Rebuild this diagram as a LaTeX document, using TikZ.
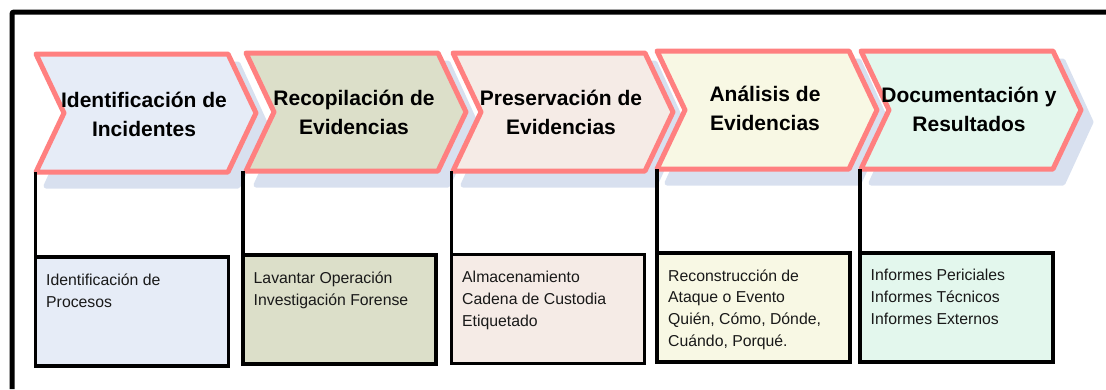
\documentclass[tikz,border=0pt]{standalone}
\usepackage{fontspec}
\setmainfont{Liberation Sans}
\usepackage{tikz}

\definecolor{stageline}{RGB}{255,128,128}
\definecolor{stageshadow}{RGB}{216,224,239}
\definecolor{idfill}{RGB}{230,236,247}
\definecolor{recfill}{RGB}{220,223,201}
\definecolor{presfill}{RGB}{245,235,230}
\definecolor{anafill}{RGB}{248,248,228}
\definecolor{docfill}{RGB}{227,247,237}

\begin{document}
\begin{tikzpicture}[x=1pt, y=-1pt,
    stage/.style ={draw=stageline, line width=5pt, line join=round},
    stageshade/.style ={fill=stageshadow, draw=stageshadow, line width=5pt, line join=round},
    stagetitle/.style ={font=\bfseries\fontsize{21}{29}\selectfont, align=center},
    detailbox/.style ={draw, line width=3.2pt, minimum width=193pt, minimum height=109pt,
                       anchor=north west, outer sep=0pt, inner sep=0pt},
    detailtext/.style ={font=\fontsize{15.8}{21.7}\selectfont, align=left,
                        anchor=north west, inner sep=0pt, text=black!90},
    link/.style ={line width=3.2pt}]
   \useasboundingbox (0,0) rectangle (1106,389);

   % frame
   \draw[line width=5pt, rounded corners=2pt] (12,389) -- (12,12) -- (1106,12);

   % shadows
   \draw[stageshade] (46,64) -- (238,64) -- (266,125) -- (238,186) -- (46,186) -- (74,125) -- cycle;
   \draw[stageshade] (256,63) -- (448,63) -- (476,124) -- (448,185) -- (256,185) -- (284,124) -- cycle;
   \draw[stageshade] (463,63) -- (655,63) -- (683,124) -- (655,185) -- (463,185) -- (491,124) -- cycle;
   \draw[stageshade] (667,61) -- (859,61) -- (887,122) -- (859,183) -- (667,183) -- (695,122) -- cycle;
   \draw[stageshade] (871,61) -- (1063,61) -- (1091,122) -- (1063,183) -- (871,183) -- (899,122) -- cycle;

   % stages
   \draw[stage, fill=idfill] (36,54) -- (228,54) -- (256,113) -- (228,172) -- (36,172) -- (64,113) -- cycle;
   \draw[stage, fill=recfill] (246,53) -- (438,53) -- (466,112) -- (438,171) -- (246,171) -- (274,112) -- cycle;
   \draw[stage, fill=presfill] (453,53) -- (645,53) -- (673,112) -- (645,171) -- (453,171) -- (481,112) -- cycle;
   \draw[stage, fill=anafill] (657,51) -- (849,51) -- (877,110) -- (849,169) -- (657,169) -- (685,110) -- cycle;
   \draw[stage, fill=docfill] (861,51) -- (1053,51) -- (1081,110) -- (1053,169) -- (861,169) -- (889,110) -- cycle;

   \node[stagetitle] (s1) at (144,114.5) {Identificación de\\Incidentes};
   \node[stagetitle] (s2) at (354,112.7) {Recopilación de\\Evidencias};
   \node[stagetitle] (s3) at (561,112.1) {Preservación de\\Evidencias};
   \node[stagetitle] (s4) at (765,108.3) {Análisis de\\Evidencias};
   \node[stagetitle] (s5) at (969,109.7) {Documentación y\\Resultados};

   \coordinate (c1) at (35.5,172);
   \coordinate (c2) at (243,171);
   \coordinate (c3) at (451.5,171);
   \coordinate (c4) at (657,169);
   \coordinate (c5) at (860,169);

   % detail boxes
   \node[detailbox, fill=idfill] (b1) at (35.5,257) {};
   \node[detailbox, fill=recfill] (b2) at (243,255) {};
   \node[detailbox, fill=presfill] (b3) at (451.5,254.5) {};
   \node[detailbox, fill=anafill] (b4) at (657,253) {};
   \node[detailbox, fill=docfill] (b5) at (860,253) {};

   \draw[link] (c1) -- (b1.north west);
   \draw[link] (c2) -- (b2.north west);
   \draw[link] (c3) -- (b3.north west);
   \draw[link] (c4) -- (b4.north west);
   \draw[link] (c5) -- (b5.north west);

   \node[detailtext] (d1) at (46,273.5) {Identificación de\\Procesos};
   \node[detailtext] (d2) at (253.5,271.5) {Lavantar Operación\\Investigación Forense};
   \node[detailtext] (d3) at (462,271) {Almacenamiento\\Cadena de Custodia\\Etiquetado};
   \node[detailtext] (d4) at (668,269.3) {Reconstrucción de\\Ataque o Evento\\Quién, Cómo, Dónde,\\Cuándo, Porqué.};
   \node[detailtext] (d5) at (870.5,269.3) {Informes Periciales\\Informes Técnicos\\Informes Externos};

 \end{tikzpicture}
\end{document}
